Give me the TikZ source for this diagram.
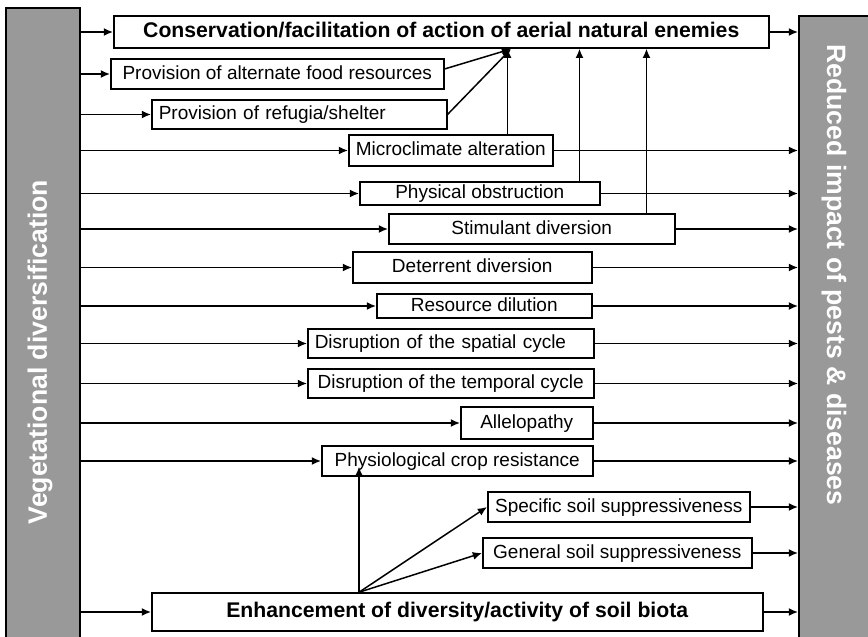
\documentclass[tikz,border=0pt]{standalone}
\usepackage{fontspec}
\setmainfont{Liberation Sans}
\usetikzlibrary{arrows.meta,calc,positioning}

\tikzset{
  effect/.style={draw, line width=0.75pt, fill=white, inner xsep=3.5pt,
    inner ysep=1pt, anchor=west, text height=7pt, text depth=2pt,
    font=\fontsize{9.5}{11}\selectfont},
  maineffect/.style={effect, text height=7.8pt, text depth=2.2pt,
    font=\fontsize{10.6}{12}\selectfont\bfseries},
  leftfx/.style={effect, align=left, text width=#1},
  sidebar/.style={draw, line width=0.75pt, fill=gray!80, anchor=north west},
  bartext/.style={text=white, font=\fontsize{13.3}{15}\selectfont\bfseries},
  link/.style={->, line width=0.75pt},
}

\begin{document}
\begin{tikzpicture}[x=0.5pt,y=-0.5pt,>={Latex[length=4.6pt,width=4pt]}]
  \useasboundingbox (0,0) rectangle (868,637);
  % the two side bars
  \node[sidebar, minimum width=37pt, minimum height=322pt] (veg) at (5,7) {};
  \node[sidebar, minimum width=40pt, minimum height=322pt] (red) at (798,15) {};
  \node[bartext, rotate=90] (vegtext) at (40,352) {Vegetational diversification};
  \node[bartext, rotate=-90] (redtext) at (834,275) {Reduced impact of pests \& diseases};

  % mechanisms
  \node[maineffect, minimum width=327.5pt, minimum height=16pt] (cons) at (113,32)
    {Conservation/facilitation of action of aerial natural enemies};
  \node[effect, minimum width=166.5pt, minimum height=15pt] (alt) at (110,74)
    {Provision of alternate food resources};
  \node[leftfx=140.5pt, minimum height=14.5pt] (ref) at (151,114.5)
    {Provision of refugia/shelter};
  \node[effect, minimum width=102pt, minimum height=15.5pt] (micro) at (348,150.5)
    {Microclimate alteration};
  \node[effect, minimum width=120pt, minimum height=11.5pt] (phys) at (359,193.5)
    {Physical obstruction};
  \node[effect, minimum width=143pt, minimum height=15pt] (stim) at (388,229)
    {Stimulant diversion};
  \node[effect, minimum width=119.5pt, minimum height=15.5pt] (det) at (352,267.5)
    {Deterrent diversion};
  \node[effect, minimum width=107.5pt, minimum height=12pt] (res) at (376,306)
    {Resource dilution};
  \node[leftfx=136pt, minimum height=14.5pt] (spat) at (307,343.5)
    {Disruption of the spatial cycle};
  \node[effect, minimum width=143pt, minimum height=14.5pt] (temp) at (307,383.5)
    {Disruption of the temporal cycle};
  \node[effect, minimum width=66pt, minimum height=16pt] (alle) at (460,423)
    {Allelopathy};
  \node[effect, minimum width=135.5pt, minimum height=15pt] (phy) at (321,461)
    {Physiological crop resistance};
  \node[effect, minimum width=131pt, minimum height=15pt] (spec) at (487,507)
    {Specific soil suppressiveness};
  \node[effect, minimum width=134.5pt, minimum height=15pt] (gen) at (482,553)
    {General soil suppressiveness};
  \node[maineffect, minimum width=305.5pt, minimum height=19pt] (enh) at (151,612)
    {Enhancement of diversity/activity of soil biota};

  % from the left bar, to the right bar
  \foreach \n in {cons,alt,ref,micro,phys,stim,det,res,spat,temp,alle,phy,enh}
    \draw[link] (veg.east |- \n.west) -- (\n.west);
  \foreach \n in {cons,micro,phys,stim,det,res,spat,temp,alle,phy,spec,gen,enh}
    \draw[link] (\n.east) -- (red.west |- \n.east);

  % up to the natural enemies
  \coordinate (hub) at (511,49);
  \coordinate (mup) at ([xshift=-23pt]micro.north east);
  \coordinate (pup) at ([xshift=-10.5pt]phys.north east);
  \coordinate (stup) at ([xshift=-14.5pt]stim.north east);
  \draw[link] ([yshift=2.5pt]alt.east) -- (hub);
  \draw[link] (ref.east) -- (hub);
  \draw[link] (mup) -- (mup |- cons.south);
  \draw[link] (pup) -- (pup |- cons.south);
  \draw[link] (stup) -- (stup |- cons.south);

  % soil biota
  \coordinate (root) at ([xshift=104pt]enh.north west);
  \draw[link] (root) -- ($(root |- phy.south)+(0,5pt)$);
  \draw[link] (root) -- (spec.west);
  \draw[link] (root) -- (gen.west);
\end{tikzpicture}
\end{document}
